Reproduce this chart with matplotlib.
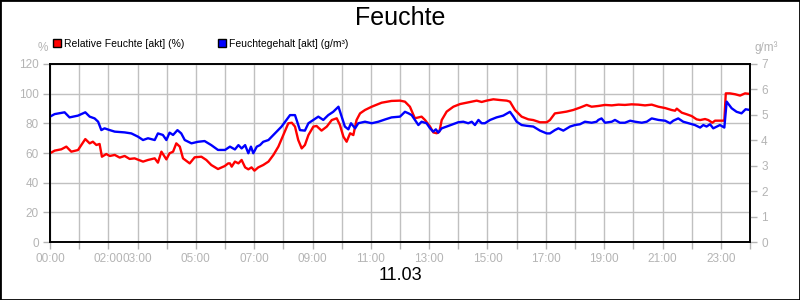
import matplotlib
matplotlib.use('Agg')
from matplotlib import pyplot as plt
from matplotlib.patches import Patch, Rectangle

plt.rcParams['font.family'] = ['Liberation Sans', 'DejaVu Sans']

# relative humidity (%), left axis
rh_hours = [0.0, 0.16, 0.39, 0.56, 0.73, 0.96, 1.21, 1.36, 1.47, 1.59, 1.70, 1.78, 1.93, 2.05,
            2.22, 2.39, 2.56, 2.73, 2.90, 3.19, 3.36, 3.59, 3.70, 3.82, 3.99, 4.10, 4.22, 4.33,
            4.45, 4.56, 4.79, 4.96, 5.19, 5.36, 5.53, 5.76, 5.99,
            6.11, 6.17, 6.23, 6.34, 6.46, 6.57, 6.69, 6.80, 6.91, 7.01, 7.14, 7.31, 7.49, 7.66,
            7.83, 8.0, 8.17, 8.29, 8.40, 8.51, 8.63, 8.74, 8.86, 9.03, 9.14, 9.31, 9.49, 9.66,
            9.83, 9.94, 10.06, 10.17, 10.29, 10.40, 10.51, 10.63, 10.80, 11.03, 11.37, 11.71, 12.0,
            12.17, 12.34, 12.51, 12.63, 12.74, 12.86, 13.03, 13.14, 13.26, 13.35, 13.43, 13.6,
            13.83, 14.06, 14.29, 14.46, 14.63, 14.8, 14.97, 15.2, 15.43, 15.66, 15.77, 15.94,
            16.17, 16.4, 16.57, 16.8, 17.03, 17.14, 17.31, 17.49, 17.71, 17.94,
            18.17, 18.4, 18.57, 18.8, 19.03, 19.26, 19.49, 19.71, 19.94, 20.17, 20.4, 20.63,
            20.86, 21.09, 21.31, 21.43, 21.49, 21.66, 21.83, 22.0, 22.17, 22.29, 22.46, 22.57,
            22.71, 22.8, 22.97, 23.12, 23.17, 23.31, 23.49, 23.66, 23.83, 24.0]
rh_values = [59.8, 61.6, 62.5, 64.3, 60.9, 62.0, 69.4, 66.5, 67.6, 65.4, 66.1, 57.5, 59.3, 58.0,
             58.7, 56.9, 58.0, 56.0, 56.4, 54.2, 55.3, 56.4, 53.5, 60.9, 55.7, 59.8, 60.9, 66.5,
             64.3, 56.4, 53.0, 57.1, 57.5, 55.3, 51.9, 49.2, 51.2,
             53.0, 53.0, 50.8, 54.2, 53.0, 55.3, 50.3, 49.0, 50.3, 48.1, 50.3, 51.9, 54.2, 58.7,
             64.3, 72.1, 80.0, 80.4, 77.8, 68.8, 63.1, 65.4, 72.1, 77.8, 78.2, 75.1, 77.8, 82.2,
             83.4, 78.9, 71.0, 67.6, 73.3, 72.1, 82.2, 86.7, 89.0, 91.2, 93.9, 95.1, 95.3,
             94.6, 91.2, 83.4, 84.0, 84.5, 82.2, 77.8, 73.9, 73.3, 74.4, 82.2, 87.9,
             91.2, 93.0, 93.9, 94.6, 95.3, 94.4, 95.3, 96.2, 95.7, 95.3, 94.6, 89.0,
             84.5, 82.7, 82.2, 80.7, 80.7, 82.2, 86.7, 87.2, 87.9, 89.0,
             90.6, 92.4, 91.2, 91.7, 92.4, 92.1, 92.6, 92.4, 92.8, 92.6, 92.1, 92.6,
             91.2, 90.3, 89.0, 88.5, 89.9, 87.2, 86.1, 84.9, 82.7, 82.2, 82.9, 82.2,
             80.4, 81.8, 81.8, 81.8, 100.2, 100.2, 99.6, 98.7, 100.2, 99.8]

# absolute humidity (g/m3), right axis
ah_hours = [0.0, 0.16, 0.50, 0.67, 0.96, 1.21, 1.36, 1.53, 1.65, 1.76, 1.87, 2.05, 2.22, 2.56,
            2.79, 3.02, 3.19, 3.36, 3.59, 3.70, 3.87, 3.99, 4.10, 4.22, 4.37, 4.50, 4.62, 4.85,
            5.07, 5.30, 5.53, 5.76,
            6.0, 6.17, 6.34, 6.46, 6.57, 6.69, 6.80, 6.89, 6.97, 7.09, 7.20, 7.31, 7.49, 7.71,
            7.94, 8.11, 8.23, 8.40, 8.57, 8.74, 8.86, 9.03, 9.20, 9.37, 9.54, 9.71, 9.89, 10.0,
            10.11, 10.23, 10.32, 10.46, 10.57, 10.80, 11.03, 11.26, 11.49, 11.71, 12.0,
            12.17, 12.29, 12.40, 12.51, 12.63, 12.74, 12.91, 13.03, 13.14, 13.23, 13.31, 13.43,
            13.6, 13.83, 14.0, 14.17, 14.34, 14.46, 14.57, 14.69, 14.8, 14.91, 15.09, 15.31,
            15.54, 15.77, 15.89, 16.0, 16.17, 16.34, 16.57, 16.8, 17.03, 17.14, 17.31, 17.43,
            17.6, 17.83, 18.0,
            18.17, 18.34, 18.57, 18.74, 18.8, 18.91, 19.03, 19.26, 19.37, 19.54, 19.71, 19.89,
            20.06, 20.29, 20.46, 20.63, 20.86, 21.09, 21.26, 21.37, 21.54, 21.71, 21.89, 22.11,
            22.29, 22.4, 22.51, 22.63, 22.74, 22.86, 22.97, 23.12, 23.2, 23.37, 23.54, 23.71,
            23.85, 24.0]
ah_values = [4.93, 5.03, 5.10, 4.90, 4.97, 5.10, 4.93, 4.86, 4.73, 4.40, 4.47, 4.40, 4.34, 4.31,
             4.27, 4.14, 4.01, 4.08, 4.01, 4.27, 4.21, 4.01, 4.30, 4.21, 4.40, 4.27, 4.01, 3.88,
             3.94, 3.97, 3.81, 3.62,
             3.62, 3.75, 3.64, 3.81, 3.68, 3.81, 3.49, 3.75, 3.49, 3.75, 3.81, 3.94, 4.01, 4.27,
             4.54, 4.80, 4.99, 4.99, 4.40, 4.38, 4.67, 4.80, 4.93, 4.80, 4.99, 5.12, 5.32, 4.93,
             4.54, 4.43, 4.67, 4.47, 4.67, 4.73, 4.67, 4.73, 4.82, 4.90, 4.93,
             5.12, 5.06, 4.99, 4.80, 4.60, 4.73, 4.67, 4.47, 4.34, 4.43, 4.30, 4.47,
             4.54, 4.64, 4.71, 4.73, 4.67, 4.73, 4.60, 4.80, 4.67, 4.67, 4.80, 4.90,
             4.97, 5.12, 4.93, 4.73, 4.60, 4.57, 4.54, 4.38, 4.27, 4.27, 4.40, 4.47,
             4.38, 4.54, 4.60,
             4.63, 4.73, 4.69, 4.73, 4.80, 4.86, 4.69, 4.73, 4.80, 4.69, 4.69, 4.77,
             4.73, 4.69, 4.73, 4.86, 4.80, 4.77, 4.67, 4.77, 4.86, 4.73, 4.67, 4.60,
             4.50, 4.60, 4.54, 4.63, 4.47, 4.54, 4.60, 4.50, 5.52, 5.26, 5.12, 5.06,
             5.22, 5.19]

tick_hours = list(range(25))
label_hours = [0, 2, 3, 5, 7, 9, 11, 13, 15, 17, 19, 21, 23]

grey = '#b4b4b4'

fig = plt.figure(figsize=(8, 3), dpi=100)
ax = fig.add_axes([0.0625, 0.1933, 0.875, 0.5934])
ax2 = ax.twinx()

ax.plot(rh_hours, rh_values, color='#ff0000', lw=1.7)
ax2.plot(ah_hours, ah_values, color='#0000ff', lw=1.7)

ax.set_xlim(0, 24)
ax.set_ylim(0, 120)
ax2.set_ylim(0, 7)
ax.set_yticks(range(0, 121, 20))
ax2.set_yticks(range(0, 8))
ax.set_xticks(tick_hours)
ax.set_xticklabels(['%02d:00' % h if h in label_hours else '' for h in tick_hours])
ax.grid(True, color='#c0c0c0', lw=1)
ax.set_axisbelow(True)

for a in (ax, ax2):
    a.tick_params(colors=grey, labelsize=8.5, length=5, width=1, pad=3)
    for s in a.spines.values():
        s.set_color('black')
        s.set_linewidth(1.2)

fig.text(0.054, 0.84, '%', color=grey, fontsize=8.5, ha='center', va='center')
fig.text(0.958, 0.84, 'g/m³', color=grey, fontsize=8.5, ha='center', va='center')

handles = [Patch(facecolor='#ff0000', edgecolor='black'),
           Patch(facecolor='#0000ff', edgecolor='black')]
fig.legend(handles, ['Relative Feuchte [akt] (%)', 'Feuchtegehalt [akt] (g/m³)'],
           loc='center left', bbox_to_anchor=(0.066, 0.853), ncol=2, frameon=False,
           fontsize=7.5, handlelength=0.8, handleheight=0.8, handletextpad=0.3,
           columnspacing=3.2, borderaxespad=0, borderpad=0)

fig.text(0.5, 0.94, 'Feuchte', fontsize=18, ha='center', va='center')
fig.text(0.5, 0.08, '11.03', fontsize=13, ha='center', va='center')

fig.patches.append(Rectangle((0, 0), 1, 1, transform=fig.transFigure, fill=False,
                             edgecolor='black', lw=2))

fig.savefig('out.png', dpi=100)
